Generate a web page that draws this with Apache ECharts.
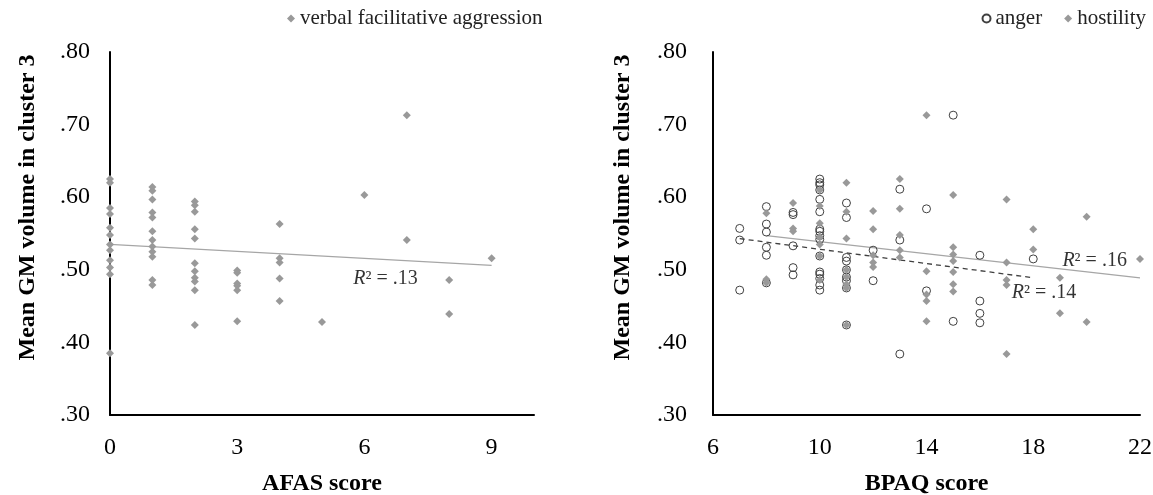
<!DOCTYPE html>
<html>
<head>
<meta charset="utf-8">
<script src="https://cdn.jsdelivr.net/npm/echarts@6/dist/echarts.min.js"></script>
<style>html,body{margin:0;padding:0;background:#fff;}#c{width:1153px;height:495px;}</style>
</head>
<body>
<div id="c"></div>
<script>
// ---- Data ----
const yTicks = [0.30, 0.40, 0.50, 0.60, 0.70, 0.80];
const afasTicks = [0, 3, 6, 9];
const bpaqTicks = [6, 10, 14, 18, 22];

// Left panel: verbal facilitative aggression (AFAS score, GM volume)
const vfaX = [0,0,0,0,0,0,0,0,0,0,0,0,
              1,1,1,1,1,1,1,1,1,1,1,1,
              2,2,2,2,2,2,2,2,2,2,2,
              3,3,3,3,3,3,
              4,4,4,4,4,
              5,6,7,7,8,8,9];
const vfaY = [0.625,0.620,0.585,0.577,0.558,0.548,0.535,0.527,0.513,0.503,0.494,0.385,
              0.614,0.609,0.597,0.579,0.572,0.553,0.541,0.532,0.525,0.518,0.486,0.479,
              0.594,0.589,0.580,0.556,0.543,0.509,0.498,0.489,0.484,0.472,0.424,
              0.499,0.496,0.481,0.478,0.472,0.429,
              0.563,0.516,0.510,0.488,0.457,
              0.428,0.603,0.713,0.541,0.486,0.439,0.516];

// Right panel: anger (BPAQ score, GM volume)
const angerX = [7,7,7,
                8,8,8,8,8,8,
                9,9,9,9,9,
                10,10,10,10,10,10,10,10,10,10,10,10,10,10,10,10,
                11,11,11,11,11,11,11,11,11,
                12,12,13,13,13,14,14,15,15,16,16,16,16,18];
const angerY = [0.557,0.541,0.472,
                0.587,0.563,0.552,0.531,0.520,0.482,
                0.579,0.576,0.533,0.503,0.493,
                0.625,0.620,0.617,0.610,0.597,0.580,0.556,0.553,0.547,0.542,0.519,0.497,0.494,0.488,0.479,0.472,
                0.592,0.572,0.517,0.512,0.500,0.490,0.485,0.475,0.424,
                0.527,0.485,0.611,0.541,0.384,0.584,0.471,0.713,0.429,0.520,0.457,0.440,0.427,0.515];

// Right panel: hostility (BPAQ score, GM volume)
const hostX = [8,8,8,
               9,9,9,
               10,10,10,10,10,10,10,
               11,11,11,11,11,11,11,11,
               12,12,12,12,12,
               13,13,13,13,13,
               14,14,14,14,14,
               15,15,15,15,15,15,15,
               17,17,17,17,17,
               18,18,19,19,20,20,22];
const hostY = [0.578,0.487,0.482,
               0.592,0.557,0.553,
               0.610,0.588,0.564,0.545,0.535,0.519,0.486,
               0.620,0.580,0.543,0.500,0.490,0.480,0.475,0.424,
               0.581,0.556,0.520,0.510,0.504,
               0.625,0.584,0.548,0.527,0.517,
               0.713,0.498,0.466,0.457,0.429,
               0.603,0.531,0.521,0.512,0.497,0.480,0.470,
               0.597,0.510,0.486,0.479,0.384,
               0.556,0.528,0.489,0.440,0.573,0.428,0.515];

// Linear trend endpoints
const vfaTrend = [[0, 0.535], [9, 0.506]];
const hostTrend = [[8, 0.547], [22, 0.489]];
const angerTrend = [[7, 0.543], [18, 0.489]];

// R² annotations: [x, y, text]
const r2Left = [[6.5, 0.487, '.13']];
const r2Right = [[20.3, 0.512, '.16'], [18.4, 0.468, '.14']];

// ---- Build ----
const zip = (xs, ys) => xs.map((x, i) => [x, ys[i]]);
const FONT = '"Liberation Serif", "Times New Roman", serif';
const fmtY = v => v.toFixed(2).replace(/^0/, '');

function yAxis(gridIndex, margin, nameGap) {
  return {
    type: 'value', gridIndex, min: 0.3, max: 0.8, interval: 0.1,
    name: 'Mean GM volume in cluster 3', nameLocation: 'middle', nameGap,
    nameTextStyle: { fontFamily: FONT, fontWeight: 'bold', fontSize: 24, color: '#000', padding: [0, 0, 0, 52] },
    axisLine: { show: true, lineStyle: { color: '#000', width: 2 } },
    axisTick: { show: false }, splitLine: { show: false },
    axisLabel: { margin, fontFamily: FONT, fontSize: 24, color: '#000',
      formatter: v => yTicks.some(t => Math.abs(t - v) < 1e-6) ? fmtY(v) : '' }
  };
}
function xAxis(gridIndex, min, max, interval, ticks, name) {
  return {
    type: 'value', gridIndex, min, max, interval,
    name, nameLocation: 'middle', nameGap: 57,
    nameTextStyle: { fontFamily: FONT, fontWeight: 'bold', fontSize: 24, color: '#000' },
    axisLine: { show: true, onZero: false, lineStyle: { color: '#000', width: 2 } },
    axisTick: { show: false }, splitLine: { show: false },
    axisLabel: { margin: 21, fontFamily: FONT, fontSize: 24, color: '#000',
      formatter: v => ticks.some(t => Math.abs(t - v) < 1e-6) ? String(v) : '' }
  };
}
const r2Series = (pts, xi, yi) => ({
  type: 'scatter', xAxisIndex: xi, yAxisIndex: yi, symbolSize: 0, silent: true, z: 5,
  data: pts.map(p => ({ value: [p[0], p[1]], label: { formatter: '{i|R}² = ' + p[2] } })),
  label: { show: true, position: 'inside', fontFamily: FONT, fontSize: 20, color: '#000',
    rich: { i: { fontFamily: FONT, fontSize: 20, fontStyle: 'italic', color: '#000' } } }
});

const DIAMOND = '#999999';
const option = {
  animation: false,
  backgroundColor: '#fff',
  grid: [
    { left: 110, top: 52, width: 424, height: 363, containLabel: false, outerBoundsMode: 'none' },
    { left: 713, top: 52, width: 427, height: 363, containLabel: false, outerBoundsMode: 'none' }
  ],
  legend: [
    { left: 282, top: 3, itemWidth: 8, itemHeight: 8, itemGap: 22,
      textStyle: { fontFamily: FONT, fontSize: 21, color: '#222' },
      data: ['verbal facilitative aggression'] },
    { right: 2, top: 3, width: 300, orient: 'horizontal', itemWidth: 8, itemHeight: 8, itemGap: 22,
      textStyle: { fontFamily: FONT, fontSize: 21, color: '#222' },
      data: ['anger', 'hostility'] }
  ],
  xAxis: [
    xAxis(0, 0, 10, 3, afasTicks, 'AFAS score'),
    xAxis(1, 6, 22, 4, bpaqTicks, 'BPAQ score')
  ],
  yAxis: [ yAxis(0, 20, 70), yAxis(1, 26, 78) ],
  series: [
    { name: 'verbal facilitative aggression', type: 'scatter', xAxisIndex: 0, yAxisIndex: 0,
      symbol: 'diamond', symbolSize: 8, itemStyle: { color: DIAMOND, opacity: 1 },
      data: zip(vfaX, vfaY), z: 3 },
    { type: 'line', xAxisIndex: 0, yAxisIndex: 0, data: vfaTrend, symbol: 'none', silent: true,
      lineStyle: { color: '#a6a6a6', width: 1.3 }, z: 2 },
    r2Series(r2Left, 0, 0),
    { name: 'anger', type: 'scatter', xAxisIndex: 1, yAxisIndex: 1,
      symbol: 'circle', symbolSize: 8,
      itemStyle: { color: 'rgba(255,255,255,0)', borderColor: '#404040', borderWidth: 1, opacity: 1 },
      data: zip(angerX, angerY), z: 3 },
    { name: 'hostility', type: 'scatter', xAxisIndex: 1, yAxisIndex: 1,
      symbol: 'diamond', symbolSize: 8, itemStyle: { color: DIAMOND, opacity: 1 },
      data: zip(hostX, hostY), z: 3 },
    { type: 'line', xAxisIndex: 1, yAxisIndex: 1, data: hostTrend, symbol: 'none', silent: true,
      lineStyle: { color: '#a6a6a6', width: 1.3 }, z: 2 },
    { type: 'line', xAxisIndex: 1, yAxisIndex: 1, data: angerTrend, symbol: 'none', silent: true,
      lineStyle: { color: '#404040', width: 1.3, type: [5, 4] }, z: 2 },
    r2Series(r2Right, 1, 1)
  ]
};
const chart = echarts.init(document.getElementById('c'), null, { renderer: 'canvas' });
chart.setOption(option);
</script>
</body>
</html>
